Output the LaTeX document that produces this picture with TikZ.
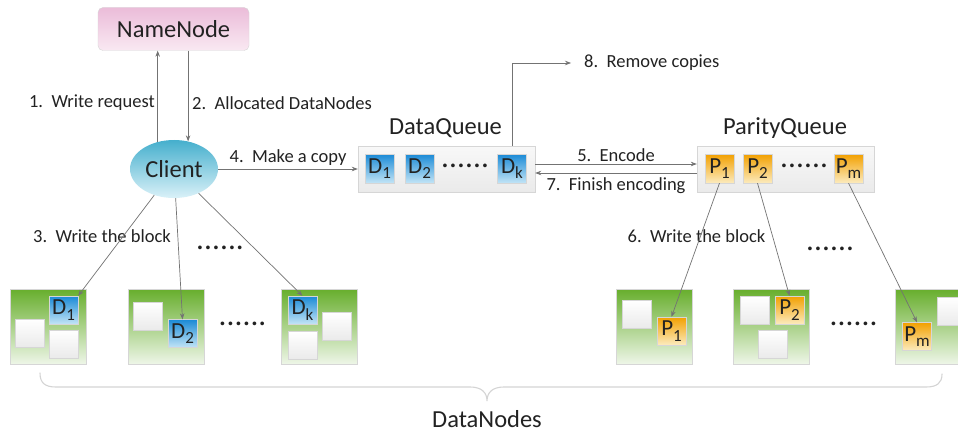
\documentclass[tikz,border=0pt]{standalone}
\usepackage{fontspec}
\setmainfont{Carlito}
\usetikzlibrary{arrows.meta,shadows,shapes.geometric}
\definecolor{arrowgray}{HTML}{737373}
\definecolor{txt}{HTML}{222222}
\definecolor{pinkT}{HTML}{EBBCD9}
\definecolor{pinkB}{HTML}{F9E9F2}
\definecolor{cliT}{HTML}{45AFCD}
\definecolor{cliB}{HTML}{DAF1F8}
\definecolor{bluT}{HTML}{1A8AD6}
\definecolor{bluB}{HTML}{C2E4F6}
\definecolor{oraT}{HTML}{F2A000}
\definecolor{oraB}{HTML}{FCEBBE}
\definecolor{grnT}{HTML}{67AE2C}
\definecolor{grnM}{HTML}{A9D383}
\definecolor{grnB}{HTML}{EEF6E8}
\definecolor{boxT}{HTML}{F8F8F8}
\definecolor{boxB}{HTML}{EAEAEA}
\definecolor{bord}{HTML}{D6D6D6}
\definecolor{bracec}{HTML}{D4D4D4}
\newcommand\subsc[1]{\raisebox{-0.24em}{\fontsize{17}{17}\selectfont #1}}
\newcommand\dotrow{\textbf{\char"00B7\hspace{2.6pt}\char"00B7\hspace{2.6pt}\char"00B7\hspace{2.6pt}\char"00B7\hspace{2.6pt}\char"00B7\hspace{2.6pt}\char"00B7}}
\begin{document}
\begin{tikzpicture}[x=1pt,y=-1pt,
  every node/.style={text=txt},
  lbl/.style={font=\fontsize{18.5}{20}\selectfont, inner sep=1pt},
  title/.style={font=\fontsize{24.5}{26}\selectfont, inner sep=0pt},
  arr/.style={draw=arrowgray, line width=0.7pt, -{Stealth[length=6pt,width=4.5pt]}},
  dn/.style={rectangle, minimum width=76pt, minimum height=75pt, draw=bord, line width=0.4pt,
    top color=grnT, middle color=grnM, bottom color=grnB},
  wsq/.style={rectangle, minimum width=29pt, minimum height=28pt, inner sep=0pt, draw=bord, line width=0.4pt,
    top color=white, bottom color=boxB},
  dsq/.style={rectangle, minimum width=29pt, minimum height=28pt, inner sep=0pt, draw=bord, line width=0.3pt,
    top color=bluT, bottom color=bluB, font=\fontsize{23}{23}\selectfont},
  psq/.style={rectangle, minimum width=29pt, minimum height=28pt, inner sep=0pt, draw=bord, line width=0.3pt,
    top color=oraT, bottom color=oraB, font=\fontsize{23}{23}\selectfont},
  queue/.style={rectangle, minimum width=177pt, minimum height=46pt, draw=bord, line width=0.4pt,
    top color=boxT, bottom color=boxB, drop shadow={opacity=0.15, shadow xshift=1pt, shadow yshift=-1pt}},
  dotsn/.style={font=\fontsize{20}{20}\selectfont, inner sep=0pt}
]
\useasboundingbox (0,0) rectangle (958,433);
\fill[white] (0,0) rectangle (958,433);

% NameNode and Client
\node[rectangle, rounded corners=5pt, minimum width=151pt, minimum height=43pt, draw=bord, line width=0.4pt,
  top color=pinkT, bottom color=pinkB, title] (name) at (173.5,29) {NameNode};
\node[ellipse, minimum width=88pt, minimum height=58pt, inner sep=0pt, draw=none,
  top color=cliT, bottom color=cliB, title] (client) at (174,169) {Client};

\draw[arr] (client.121) -- (client.121 |- name.south);
\draw[arr] (name.south -| client.63) -- (client.63);
\node[lbl, anchor=east] (l1) at (156,103) {1.~~Write request};
\node[lbl, anchor=west] (l2) at (191,103) {2.~~Allocated DataNodes};

% Queues
\node[queue] (dq) at (446.5,169) {};
\node[queue] (pq) at (785.5,169) {};
\node[title] (dqt) at (445.5,128) {DataQueue};
\node[title] (pqt) at (785,128) {ParityQueue};

\node[dsq, minimum height=29pt] (d1q) at (379.5,168.5) {D\subsc{1}};
\node[dsq, minimum height=29pt] (d2q) at (419.5,168.5) {D\subsc{2}};
\node[dotsn] (dqd) at (465,168) {\dotrow};
\node[dsq, minimum height=29pt] (dkq) at (512,168.5) {D\subsc{k}};

\node[psq, minimum height=29pt] (p1q) at (719.5,168.5) {P\subsc{1}};
\node[psq, minimum height=29pt] (p2q) at (757.5,168.5) {P\subsc{2}};
\node[dotsn] (pqd) at (804,168) {\dotrow};
\node[psq, minimum height=29pt] (pmq) at (848.5,168.5) {P\subsc{m}};

% arrows between client and queues
\draw[arr] (client.east) -- node[lbl, above=2pt] (l4) {4.~~Make a copy} (dq.west);
\draw[arr] ([yshift=5pt]dq.east) -- node[lbl, above=1pt] (l5) {5.~~Encode} ([yshift=5pt]pq.west);
\draw[arr] ([yshift=-4pt]pq.west) -- node[lbl, below=3pt] (l7) {7.~~Finish encoding} ([yshift=-4pt]dq.east);

\node[lbl, anchor=west] (l8) at (583,63) {8.~~Remove copies};
\coordinate (rmend) at (571,63);
\draw[arr] (dkq.north |- dq.north) |- (rmend);

% DataNodes (data)
\node[dn] (dn1) at (48,326.5) {};
\node[dsq] (d1a) at (63.5,310) {D\subsc{1}};
\node[wsq] (w11) at (29.5,333.5) {};
\node[wsq] (w12) at (63.5,344) {};

\node[dn] (dn2) at (166,326.5) {};
\node[wsq] (w21) at (148,316.5) {};
\node[dsq] (d2a) at (182.5,333.5) {D\subsc{2}};

\node[dn] (dn3) at (319,326.5) {};
\node[dsq] (dka) at (302.5,310) {D\subsc{k}};
\node[wsq] (w31) at (336.5,326.5) {};
\node[wsq] (w32) at (302.5,345.5) {};

% DataNodes (parity)
\node[dn] (dn4) at (654.5,326.5) {};
\node[wsq] (w41) at (636.5,314.5) {};
\node[psq] (p1a) at (671.5,331) {P\subsc{1}};

\node[dn] (dn5) at (771.5,326.5) {};
\node[wsq] (w51) at (754.5,310.5) {};
\node[psq] (p2a) at (789.5,310) {P\subsc{2}};
\node[wsq] (w52) at (772.5,344.5) {};

\node[dn] (dn6) at (933,326.5) {};
\node[wsq] (w61) at (952,311.5) {};
\node[psq] (pma) at (917,336.5) {P\subsc{m}};

% dots
\node[dotsn] (dot1) at (220,250) {\dotrow};
\node[dotsn] (dot2) at (242.5,326) {\dotrow};
\node[dotsn] (dot3) at (830,251) {\dotrow};
\node[dotsn] (dot4) at (853.5,326) {\dotrow};

% write-the-block labels and arrows
\node[lbl] (l3) at (102,236) {3.~~Write the block};
\node[lbl] (l6) at (696.5,236) {6.~~Write the block};
\draw[arr] (client) -- (d1a.north east);
\draw[arr] (client) -- (d2a.north);
\draw[arr] (client) -- (dka.north);
\draw[arr] (p1q.south) -- (p1a.north);
\draw[arr] (p2q.south) -- (p2a.north);
\draw[arr] (pmq.south) -- (pma.north);

% brace
\coordinate (bl) at (40,373);
\coordinate (br) at (942,374);
\coordinate (bt) at (487,401);
\draw[bracec, line width=1.1pt, line cap=round]
  (bl) .. controls (40,383) and (45,387) .. (56,387) -- (470,387)
  .. controls (481,387) and (487,392) .. (bt)
  .. controls (487,392) and (493,387) .. (504,387) -- (926,387)
  .. controls (937,387) and (942,383) .. (br);
\node[title] (dnl) at (487,419) {DataNodes};
\end{tikzpicture}
\end{document}
